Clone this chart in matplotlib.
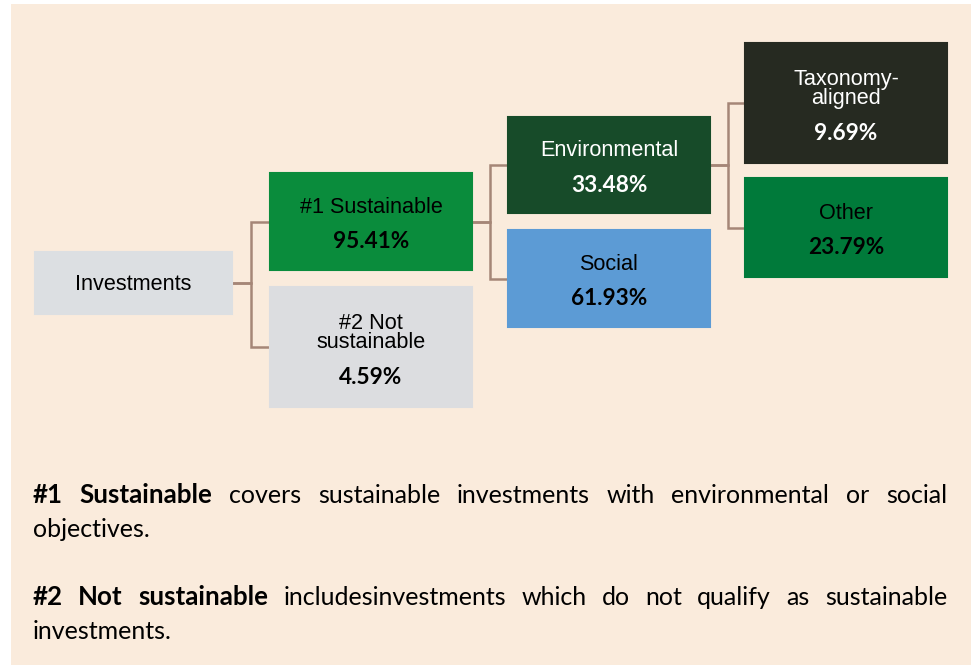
import matplotlib.pyplot as plt
from matplotlib.patches import Rectangle

# Tree of the investment breakdown
nodes = ["Investments", "#1 Sustainable", "#2 Not\nsustainable", "Environmental",
         "Social", "Taxonomy-\naligned", "Other"]
shares = [None, 95.41, 4.59, 33.48, 61.93, 9.69, 23.79]
parents = [None, 0, 0, 1, 1, 3, 3]

# Footnote paragraphs: (bold lead-in, rest of text)
notes_bold = ["#1 Sustainable", "#2 Not sustainable"]
notes_text = ["covers sustainable investments with environmental or social objectives.",
              "includesinvestments which do not qualify as sustainable investments."]

# layout in pixels: (left, top, right, bottom)
boxes = [(35, 252, 232, 314), (270, 173, 472, 270), (270, 287, 472, 407),
         (508, 117, 710, 213), (508, 230, 710, 327),
         (745, 43, 947, 163), (745, 178, 947, 277)]
box_colors = ["#DCDFE2", "#0A8C3C", "#DCDDE0", "#174B29", "#5C9BD5", "#262A21", "#007A3A"]
text_colors = ["black", "black", "black", "white", "black", "white", "black"]
bg = "#FAEBDC"
line_color = "#A58677"

fig = plt.figure(figsize=(9.71, 6.65), dpi=100, facecolor="white")
ax = fig.add_axes([0, 0, 1, 1])
ax.set_xlim(0, 971)
ax.set_ylim(665, 0)
ax.axis("off")
ax.add_patch(Rectangle((11, 4), 960, 661, facecolor=bg, edgecolor="none", zorder=0))

# connectors
for i, p in enumerate(parents):
    if p is None:
        continue
    pl, pt, pr, pb = boxes[p]
    cl, ct, cr, cb = boxes[i]
    py = (pt + pb) / 2
    cy = (ct + cb) / 2
    xm = (pr + cl) / 2
    ax.plot([pr, xm, xm, cl], [py, py, cy, cy], color=line_color, lw=1.8,
            solid_joinstyle="miter", zorder=1)

# boxes and labels
for i, name in enumerate(nodes):
    l, t, r, b = boxes[i]
    ax.add_patch(Rectangle((l, t), r - l, b - t, facecolor=box_colors[i],
                           edgecolor=box_colors[i], lw=1.5, zorder=2))
    cx = (l + r) / 2
    cy = (t + b) / 2
    if shares[i] is None:
        ax.text(cx, cy + 2, name, ha="center", va="center", fontsize=15.6,
                family="Liberation Sans", color=text_colors[i], zorder=3)
        continue
    two = "\n" in name
    ax.text(cx, cy - 14, name, ha="center", va="center", fontsize=15.6,
            family="Liberation Sans", color=text_colors[i], linespacing=0.85, zorder=3)
    ax.text(cx, cy + (31 if two else 20), f"{shares[i]:.2f}%", ha="center", va="center",
            fontsize=16.3, family="Lato", fontweight="bold", color=text_colors[i], zorder=3)

# justified footnote
renderer = fig.canvas.get_renderer()
x0, x1 = 33, 947


def put_line(words, y, justify):
    texts = [ax.text(0, y, w, fontsize=18.6 if bold else 18, family="Lato", va="baseline",
                     fontweight="bold" if bold else "normal", color="black")
             for w, bold in words]
    widths = [t.get_window_extent(renderer).width for t in texts]
    if justify and len(words) > 1:
        gap = (x1 - x0 - sum(widths)) / (len(words) - 1)
    else:
        gap = 5.5
    x = x0
    for t, w in zip(texts, widths):
        t.set_x(x)
        x += w + gap


baselines = [(503, 537), (605, 639)]
for k in range(2):
    words = [(w, True) for w in notes_bold[k].split()] + [(w, False) for w in notes_text[k].split()]
    first, last = words[:-1], words[-1:]
    put_line(first, baselines[k][0], True)
    put_line(last, baselines[k][1], False)

fig.savefig("out.png", dpi=100, facecolor=fig.get_facecolor())
